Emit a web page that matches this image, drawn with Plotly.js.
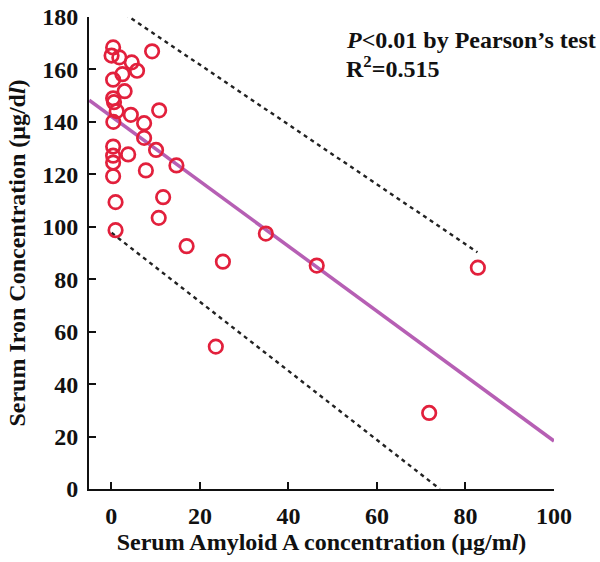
<!DOCTYPE html>
<html>
<head>
<meta charset="utf-8">
<script src="https://cdn.plot.ly/plotly-3.0.1.min.js"></script>
<style>html,body{margin:0;padding:0;background:#fff}#chart{width:600px;height:562px}</style>
</head>
<body>
<div id="chart"></div>
<script>
// Serum Amyloid A (µg/ml) vs serum iron (µg/dl)
var saa = [0.4, 0.05, 1.8, 4.6, 9.2, 5.8, 2.5, 0.4, 3.0, 0.4, 0.6, 1.2, 4.4, 10.8, 0.45, 7.4, 7.4, 0.4, 10.1, 0.4, 3.8, 0.4, 7.8, 14.7, 0.4, 0.95, 11.7, 10.7, 0.95, 17.0, 25.2, 34.9, 46.4, 82.8, 23.6, 71.8];
var iron = [168.4, 165.3, 164.6, 162.7, 166.9, 159.5, 158.2, 156.1, 151.7, 149.0, 147.5, 144.1, 142.7, 144.4, 140.0, 139.5, 133.9, 130.6, 129.3, 127.1, 127.6, 124.5, 121.5, 123.4, 119.3, 109.4, 111.3, 103.4, 98.7, 92.6, 86.7, 97.4, 85.2, 84.4, 54.3, 29.0];
// regression line and prediction bounds (end points)
var fitX = [-5, 100];
var fitY = [148.3, 18.3];
var upperX = [3.05, 82.7];
var upperY = [181.1, 90.3];
var lowerX = [0.05, 74.2];
var lowerY = [97.7, 0];
var xTicks = [0, 20, 40, 60, 80, 100];
var yTicks = [0, 20, 40, 60, 80, 100, 120, 140, 160, 180];

var serif = 'Liberation Serif, Times New Roman, serif';

var traces = [
  {x: upperX, y: upperY, mode: 'lines', line: {color: '#222', width: 2.4, dash: '4px,4px'}, hoverinfo: 'skip', cliponaxis: false},
  {x: lowerX, y: lowerY, mode: 'lines', line: {color: '#222', width: 2.4, dash: '4px,4px'}, hoverinfo: 'skip'},
  {x: fitX, y: fitY, mode: 'lines', line: {color: '#b65fb4', width: 3.5}, hoverinfo: 'skip', cliponaxis: false},
  {x: saa, y: iron, mode: 'markers', type: 'scatter', cliponaxis: false,
   marker: {symbol: 'circle-open', size: 13.5, color: '#e2203c', line: {width: 2.7}}}
];

var layout = {
  width: 600, height: 562,
  margin: {l: 89, r: 46, t: 17, b: 73},
  showlegend: false,
  paper_bgcolor: '#fff', plot_bgcolor: '#fff',
  font: {family: serif, color: '#111', size: 24, weight: 'bold'},
  xaxis: {
    range: [-5.05, 100], tickvals: xTicks, ticktext: xTicks.map(String),
    ticks: 'inside', ticklen: 7, tickwidth: 2, tickcolor: '#111',
    showline: true, linewidth: 2, linecolor: '#111', showgrid: false, zeroline: false,
    ticklabelstandoff: 4,
    tickfont: {family: serif, size: 24, weight: 'bold', color: '#111'},
    title: {text: 'Serum Amyloid A concentration (μg/m<i>l</i>)', font: {family: serif, size: 24, weight: 'bold', color: '#111'}, standoff: 5}
  },
  yaxis: {
    range: [0, 180], tickvals: yTicks, ticktext: yTicks.map(String),
    ticks: 'inside', ticklen: 7, tickwidth: 2, tickcolor: '#111',
    showline: true, linewidth: 2, linecolor: '#111', showgrid: false, zeroline: false,
    ticklabelstandoff: 4,
    tickfont: {family: serif, size: 24, weight: 'bold', color: '#111'},
    title: {text: 'Serum Iron Concentration (μg/d<i>l</i>)', font: {family: serif, size: 24, weight: 'bold', color: '#111'}, standoff: 10}
  },
  annotations: [
    {xref: 'paper', yref: 'paper', x: 0.548, y: 0.951, xanchor: 'left', yanchor: 'middle', showarrow: false,
     text: '<i>P</i>&lt;0.01 by Pearson’s test', font: {family: serif, size: 24, weight: 'bold', color: '#111'}},
    {xref: 'paper', yref: 'paper', x: 0.548, y: 0.894, xanchor: 'left', yanchor: 'middle', showarrow: false,
     text: 'R<sup>2</sup>=0.515', font: {family: serif, size: 24, weight: 'bold', color: '#111'}}
  ]
};

Plotly.newPlot('chart', traces, layout, {staticPlot: true, displayModeBar: false});
</script>
</body>
</html>
